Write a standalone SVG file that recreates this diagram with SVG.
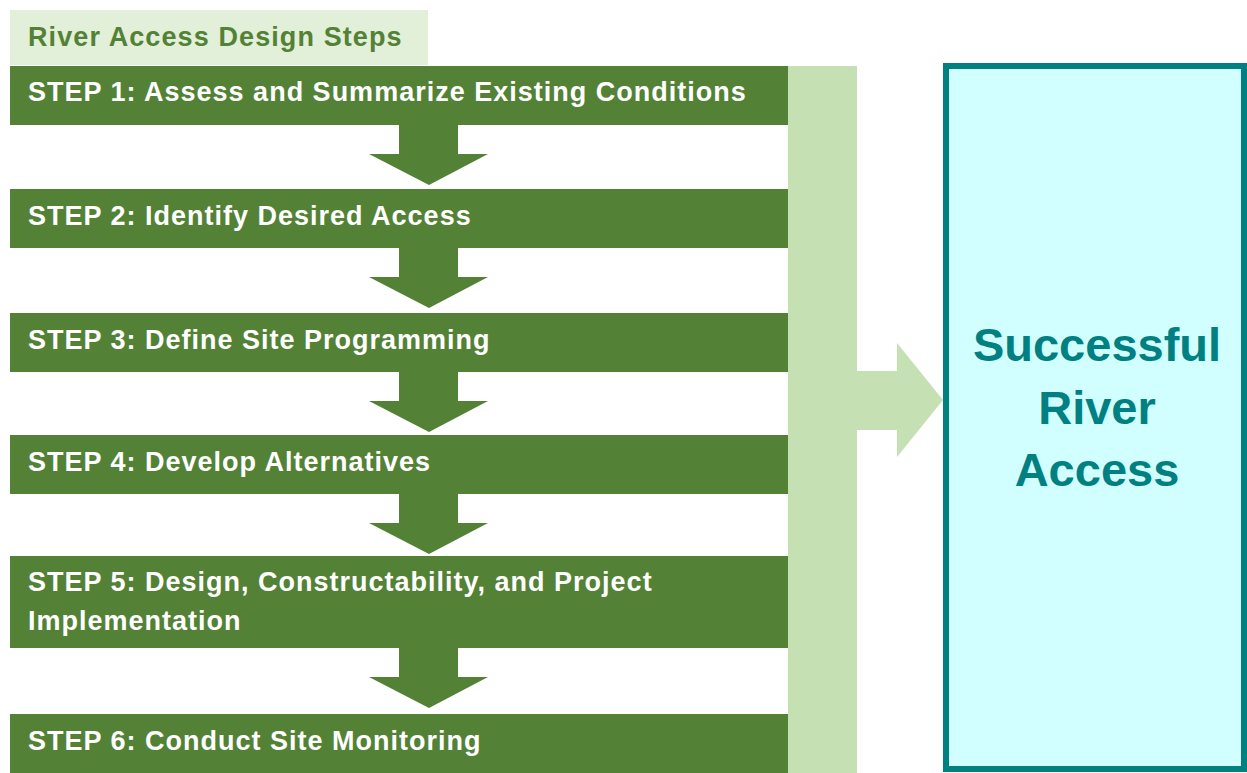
<svg xmlns="http://www.w3.org/2000/svg" width="1247" height="773" viewBox="0 0 1247 773">
  <style>
    .bar { fill: #538135; }
    .flow { fill: #538135; }
    .band { fill: #c5e0b3; }
    .step { font-family: "Liberation Sans", Arial, sans-serif; font-weight: bold; font-size: 27px; letter-spacing: 1px; fill: #ffffff; }
    .title { font-family: "Liberation Sans", Arial, sans-serif; font-weight: bold; font-size: 27px; letter-spacing: 1.1px; fill: #538135; }
    .goal { font-family: "Liberation Sans", Arial, sans-serif; font-weight: bold; font-size: 47px; fill: #008080; text-anchor: middle; }
  </style>
  <defs>
    <!-- down arrow between steps, origin at top of shaft centre -->
    <path id="down" d="M-30 0 H29 V29 H59 L0 60 L-60 29 H-30 Z"/>
  </defs>
  <rect width="1247" height="773" fill="#ffffff"/>

  <!-- header tab -->
  <g id="header">
    <rect x="10" y="10" width="418" height="55" fill="#e2efd9"/>
    <text class="title" x="28" y="46">River Access Design Steps</text>
  </g>

  <!-- side band feeding the outcome -->
  <g id="band">
    <rect class="band" x="788" y="66" width="69" height="707"/>
    <path class="band" d="M857 371 H897 V343 L943 400 L897 457 V430 H857 Z"/>
  </g>

  <!-- connectors -->
  <g id="connectors" class="flow">
    <use href="#down" x="429" y="125"/>
    <use href="#down" x="429" y="248"/>
    <use href="#down" x="429" y="372"/>
    <use href="#down" x="429" y="494"/>
    <use href="#down" x="429" y="648"/>
  </g>

  <g id="step1">
    <rect class="bar" x="10" y="66" width="778" height="59"/>
    <text class="step" x="28" y="101">STEP 1: Assess and Summarize Existing Conditions</text>
  </g>
  <g id="step2">
    <rect class="bar" x="10" y="189" width="778" height="59"/>
    <text class="step" x="28" y="225">STEP 2: Identify Desired Access</text>
  </g>
  <g id="step3">
    <rect class="bar" x="10" y="313" width="778" height="59"/>
    <text class="step" x="28" y="349">STEP 3: Define Site Programming</text>
  </g>
  <g id="step4">
    <rect class="bar" x="10" y="435" width="778" height="59"/>
    <text class="step" x="28" y="471">STEP 4: Develop Alternatives</text>
  </g>
  <g id="step5">
    <rect class="bar" x="10" y="556" width="778" height="92"/>
    <text class="step" x="28" y="591">STEP 5: Design, Constructability, and Project</text>
    <text class="step" x="28" y="630">Implementation</text>
  </g>
  <g id="step6">
    <rect class="bar" x="10" y="714" width="778" height="59"/>
    <text class="step" x="28" y="750">STEP 6: Conduct Site Monitoring</text>
  </g>

  <g id="outcome">
    <rect x="946" y="66" width="298" height="703" fill="#d1ffff" stroke="#008080" stroke-width="6"/>
    <text class="goal" x="1097" y="361">Successful</text>
    <text class="goal" x="1097" y="424">River</text>
    <text class="goal" x="1097" y="486">Access</text>
  </g>
</svg>
